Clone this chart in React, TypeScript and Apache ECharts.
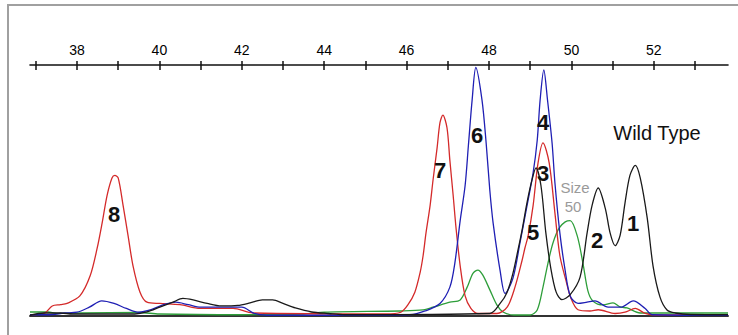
import React, { useEffect, useRef } from "react";
import * as echarts from "echarts";

const xMin = 36.86;
const xMax = 53.8;
const tickValues = [37, 38, 39, 40, 41, 42, 43, 44, 45, 46, 47, 48, 49, 50, 51, 52, 53];
const labelValues = [38, 40, 42, 44, 46, 48, 50, 52];

const blueTrace: number[][] = [
  [36.86, 0.5], [37.3, 0.5], [37.7, 1.2], [38.0, 1.5], [38.3, 3.5], [38.6, 6], [38.9, 5], [39.2, 3], [39.5, 1.5],
  [39.8, 2.5], [40.1, 4.5], [40.4, 5.5], [40.7, 4.5], [41.0, 3.5], [41.5, 3.5], [42.0, 3.5], [42.3, 1], [42.6, 0.3],
  [45.0, 0.3], [46.08, 0.5], [46.45, 2], [46.81, 5], [47.05, 11.5], [47.17, 21], [47.3, 38], [47.42, 52], [47.5, 68],
  [47.59, 86], [47.68, 99], [47.83, 86], [47.93, 69], [48.02, 50], [48.1, 37], [48.27, 18], [48.39, 9], [48.58, 15],
  [48.75, 29], [48.9, 42], [49.07, 57], [49.17, 70], [49.24, 86], [49.33, 98], [49.42, 86], [49.53, 69], [49.6, 53],
  [49.72, 33], [49.84, 19], [49.97, 8], [50.16, 5], [50.38, 5.5], [50.57, 6], [50.89, 3.5], [51.2, 3.5], [51.5, 6],
  [51.79, 3], [51.96, 0.5], [53.8, 0.3],
];

const redTrace: number[][] = [
  [36.86, 0.5], [37.2, 1], [37.4, 4], [37.6, 4.5], [37.76, 5], [38.07, 8], [38.32, 16], [38.49, 27], [38.61, 37],
  [38.73, 48], [38.85, 55], [38.92, 56], [39.0, 55], [39.12, 44], [39.24, 32], [39.36, 20], [39.53, 9.5], [39.7, 5.5],
  [40.01, 5], [40.5, 4.5], [40.99, 3], [41.79, 3], [42.27, 1.2], [45.5, 0.8], [45.86, 1.5], [46.03, 4.4], [46.2, 9.5],
  [46.33, 17.5], [46.4, 24], [46.47, 33], [46.57, 44], [46.64, 54], [46.74, 67], [46.81, 77], [46.88, 80], [46.98, 75],
  [47.05, 62], [47.13, 48], [47.2, 35], [47.3, 20], [47.42, 8], [47.56, 3], [47.73, 1], [48.19, 1], [48.44, 3.5],
  [48.63, 11.5], [48.8, 22], [48.87, 27], [48.95, 32], [49.07, 44], [49.19, 61], [49.31, 69], [49.46, 61], [49.6, 41],
  [49.72, 24], [49.87, 14], [49.99, 7], [50.16, 2.5], [50.45, 2], [50.65, 2.5], [51.06, 1], [51.3, 1.5], [51.55, 3],
  [51.79, 1], [52.03, 0.4], [53.8, 0.4],
];

const blackTrace: number[][] = [
  [36.86, 0.3], [37.2, 1.2], [37.6, 1.2], [37.9, 0.8], [39.4, 0.8], [39.7, 1.6], [40.01, 3.5], [40.33, 5.5],
  [40.57, 7], [40.82, 6.4], [41.16, 5], [41.5, 4], [41.9, 4.2], [42.2, 5.2], [42.5, 6.4], [42.75, 6.4], [43.0, 5],
  [43.3, 3.2], [43.7, 1.6], [44.1, 1], [44.5, 0.5], [48.02, 1], [48.27, 5], [48.44, 9.5], [48.58, 17], [48.7, 26],
  [48.8, 34], [48.92, 45], [49.04, 54], [49.14, 59], [49.26, 52], [49.38, 33], [49.5, 19], [49.63, 9.5], [49.77, 6.5],
  [49.97, 8.5], [50.21, 15.5], [50.38, 33], [50.5, 44], [50.65, 51], [50.82, 43], [50.94, 33], [51.06, 28], [51.18, 32],
  [51.3, 45], [51.42, 56], [51.55, 60], [51.67, 55], [51.84, 39], [51.98, 20], [52.15, 7.5], [52.32, 2.4], [52.52, 1.2],
  [52.9, 0.6], [53.8, 0.5],
];

const greenTrace: number[][] = [
  [36.86, 1.6], [37.3, 1.6], [37.5, 1], [38.1, 1.2], [39.5, 1.4], [40.0, 0.8], [42.0, 0.5], [43.5, 0.8], [44.0, 1.5],
  [45.84, 2], [46.4, 2.4], [46.64, 3.5], [47.05, 5.5], [47.3, 6.4], [47.47, 11.5], [47.61, 17], [47.73, 18.3],
  [47.85, 16.3], [48.02, 10.4], [48.19, 4.4], [48.34, 1.6], [48.6, 0.4], [49.0, 0.4], [49.17, 2.4], [49.31, 11.5],
  [49.43, 21], [49.55, 29], [49.7, 35], [49.85, 37.5], [49.97, 38], [50.14, 32], [50.28, 21], [50.4, 10], [50.52, 6],
  [50.77, 4.4], [51.01, 5.2], [51.18, 3.6], [51.35, 3.2], [51.67, 1.2], [53.8, 1.2],
];

const peakLabels = [
  { text: "1", x: 633, y: 223 },
  { text: "2", x: 597, y: 240 },
  { text: "3", x: 543, y: 173 },
  { text: "4", x: 543, y: 122 },
  { text: "5", x: 533, y: 232 },
  { text: "6", x: 477, y: 135 },
  { text: "7", x: 440, y: 170 },
  { text: "8", x: 114, y: 214 },
];

const FONT = "'Liberation Sans', Arial, sans-serif";

export default function App() {
  const ref = useRef<HTMLDivElement>(null);
  useEffect(() => {
    if (!ref.current) return;
    const chart = echarts.init(ref.current, undefined, { renderer: "svg" });
    const line = (name: string, data: number[][], color: string) => ({
      name,
      type: "line",
      data,
      xAxisIndex: 0,
      yAxisIndex: 0,
      showSymbol: false,
      smooth: 0.3,
      lineStyle: { color, width: 1.3 },
      z: 3,
    });
    chart.setOption({
      animation: false,
      backgroundColor: "#ffffff",
      grid: { left: 30, right: 10, top: 65, bottom: 19 },
      xAxis: [
        {
          type: "value", position: "top", min: xMin, max: xMax, offset: 0,
          axisLine: { show: true, onZero: false, lineStyle: { color: "#111", width: 1.6 } },
          axisTick: { show: true, inside: false, length: 4, customValues: tickValues, lineStyle: { color: "#111", width: 1.5 } },
          axisLabel: { show: true, customValues: labelValues, margin: 8, color: "#000", fontSize: 14, fontFamily: FONT },
          splitLine: { show: false },
        },
        {
          type: "value", position: "top", min: xMin, max: xMax, offset: 0,
          axisLine: { show: false, onZero: false },
          axisTick: { show: true, inside: true, length: 5, customValues: tickValues, lineStyle: { color: "#111", width: 1.5 } },
          axisLabel: { show: false },
          splitLine: { show: false },
        },
        {
          type: "value", position: "bottom", min: xMin, max: xMax, offset: 0,
          axisLine: { show: true, onZero: false, lineStyle: { color: "#333", width: 2 } },
          axisTick: { show: false },
          axisLabel: { show: false },
          splitLine: { show: false },
        },
      ],
      yAxis: { type: "value", min: 0, max: 100, show: false, splitLine: { show: false } },
      series: [
        line("green", greenTrace, "#2e9e3a"),
        line("red", redTrace, "#d42a2a"),
        line("blue", blueTrace, "#1f1fb4"),
        line("black", blackTrace, "#1a1a1a"),
      ],
      graphic: [
        {
          type: "rect", shape: { x: 8, y: 5, width: 740, height: 340 },
          style: { fill: "none", stroke: "#a0a0a0", lineWidth: 2 }, z: 10,
        },
        ...peakLabels.map((p) => ({
          type: "text", x: p.x, y: p.y, z: 20,
          style: { text: p.text, fill: "#111", font: `bold 22px ${FONT}`, align: "center", verticalAlign: "middle" },
        })),
        {
          type: "text", x: 657, y: 133, z: 20,
          style: { text: "Wild Type", fill: "#111", font: `20px ${FONT}`, align: "center", verticalAlign: "middle" },
        },
        {
          type: "text", x: 575, y: 187, z: 20,
          style: { text: "Size", fill: "#9a9a9a", font: `15px ${FONT}`, align: "center", verticalAlign: "middle" },
        },
        {
          type: "text", x: 573, y: 206, z: 20,
          style: { text: "50", fill: "#9a9a9a", font: `15px ${FONT}`, align: "center", verticalAlign: "middle" },
        },
      ],
    });
    return () => chart.dispose();
  }, []);
  return (
    <div
      ref={ref}
      style={{ position: "fixed", left: 0, top: 0, width: 738, height: 335, background: "#fff" }}
    />
  );
}
